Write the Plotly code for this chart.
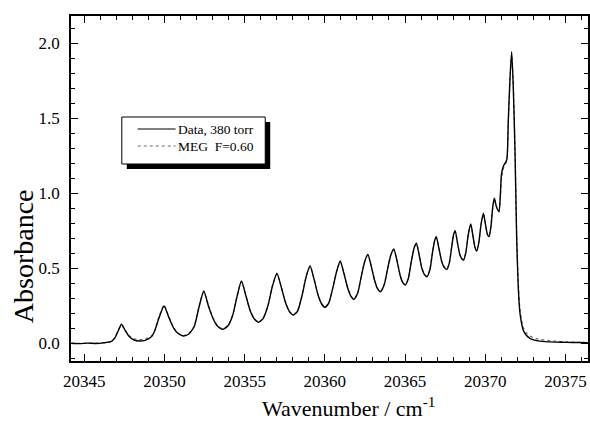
import plotly.graph_objects as go

# ---- data ----
wavenumber = [
    20344.2, 20344.7, 20345.2, 20345.7, 20346.2, 20346.66, 20346.9, 20347.1, 20347.32, 20347.55,
    20347.8, 20348.1, 20348.42, 20348.8, 20349.2, 20349.4, 20349.66, 20349.97, 20350.28, 20350.58,
    20350.85, 20351.17, 20351.5, 20351.85, 20352.15, 20352.45, 20352.75, 20353.05, 20353.3, 20353.63,
    20353.95, 20354.25, 20354.52, 20354.80, 20355.08, 20355.35, 20355.6, 20355.87, 20356.15, 20356.45,
    20356.73, 20357.01, 20357.28, 20357.55, 20357.8, 20358.04, 20358.3, 20358.58, 20358.85, 20359.08,
    20359.32, 20359.58, 20359.8, 20360.01, 20360.25, 20360.5, 20360.75, 20360.96, 20361.18, 20361.42,
    20361.62, 20361.81, 20362.05, 20362.28, 20362.5, 20362.68, 20362.88, 20363.1, 20363.28, 20363.47,
    20363.7, 20363.92, 20364.12, 20364.30, 20364.5, 20364.7, 20364.86, 20365.02, 20365.2, 20365.4,
    20365.58, 20365.71, 20365.88, 20366.05, 20366.2, 20366.37, 20366.55, 20366.72, 20366.85, 20366.95,
    20367.12, 20367.3, 20367.45, 20367.61, 20367.77, 20367.92, 20368.03, 20368.13, 20368.27, 20368.42,
    20368.55, 20368.65, 20368.8, 20368.95, 20369.10, 20369.23, 20369.36, 20369.47, 20369.6, 20369.75,
    20369.89, 20370.02, 20370.14, 20370.24, 20370.36, 20370.47, 20370.57, 20370.7, 20370.86, 20370.94,
    20371.02, 20371.15, 20371.34, 20371.44, 20371.55, 20371.65, 20371.75, 20371.86, 20371.96, 20372.06,
    20372.17, 20372.37, 20372.55, 20372.79, 20373.2, 20373.72, 20374.4, 20375.1, 20375.8, 20376.4,
]

absorbance_data = [
    0.000, -0.002, 0.001, -0.001, 0.003, 0.011, 0.035, 0.080, 0.127, 0.085,
    0.045, 0.022, 0.015, 0.020, 0.045, 0.085, 0.170, 0.249, 0.170, 0.100,
    0.065, 0.049, 0.060, 0.110, 0.240, 0.349, 0.245, 0.160, 0.115, 0.093,
    0.115, 0.185, 0.310, 0.415, 0.315, 0.215, 0.162, 0.140, 0.165, 0.250,
    0.380, 0.467, 0.375, 0.270, 0.210, 0.189, 0.215, 0.320, 0.450, 0.517,
    0.430, 0.320, 0.262, 0.240, 0.270, 0.370, 0.485, 0.549, 0.470, 0.370,
    0.315, 0.293, 0.335, 0.450, 0.550, 0.593, 0.520, 0.420, 0.365, 0.344,
    0.390, 0.500, 0.590, 0.629, 0.550, 0.450, 0.405, 0.389, 0.430, 0.550,
    0.640, 0.667, 0.590, 0.500, 0.460, 0.444, 0.490, 0.610, 0.685, 0.711,
    0.630, 0.540, 0.505, 0.493, 0.540, 0.650, 0.725, 0.751, 0.670, 0.590,
    0.562, 0.555, 0.610, 0.730, 0.795, 0.720, 0.640, 0.615, 0.670, 0.800,
    0.867, 0.790, 0.725, 0.711, 0.780, 0.910, 0.967, 0.910, 0.877, 0.980,
    1.133, 1.185, 1.222, 1.489, 1.777, 1.944, 1.711, 1.267, 0.711, 0.377,
    0.200, 0.089, 0.055, 0.033, 0.018, 0.011, 0.008, 0.006, 0.005, 0.004,
]

absorbance_meg = [
    0.000, 0.000, 0.000, 0.001, 0.004, 0.012, 0.038, 0.083, 0.122, 0.088,
    0.050, 0.030, 0.024, 0.028, 0.050, 0.090, 0.178, 0.256, 0.175, 0.104,
    0.068, 0.052, 0.063, 0.115, 0.245, 0.343, 0.250, 0.163, 0.118, 0.096,
    0.118, 0.188, 0.312, 0.410, 0.318, 0.218, 0.165, 0.143, 0.167, 0.252,
    0.382, 0.462, 0.378, 0.272, 0.212, 0.191, 0.217, 0.322, 0.452, 0.512,
    0.432, 0.322, 0.264, 0.242, 0.272, 0.372, 0.487, 0.544, 0.472, 0.372,
    0.317, 0.295, 0.337, 0.452, 0.552, 0.588, 0.522, 0.422, 0.367, 0.346,
    0.392, 0.502, 0.592, 0.624, 0.552, 0.452, 0.407, 0.391, 0.432, 0.552,
    0.642, 0.662, 0.592, 0.502, 0.462, 0.446, 0.492, 0.612, 0.682, 0.706,
    0.632, 0.542, 0.507, 0.495, 0.542, 0.652, 0.722, 0.745, 0.672, 0.592,
    0.564, 0.557, 0.612, 0.728, 0.788, 0.722, 0.642, 0.617, 0.672, 0.795,
    0.860, 0.792, 0.727, 0.713, 0.782, 0.905, 0.958, 0.912, 0.880, 0.960,
    1.100, 1.170, 1.215, 1.470, 1.760, 1.930, 1.720, 1.290, 0.740, 0.410,
    0.225, 0.108, 0.072, 0.048, 0.031, 0.021, 0.014, 0.010, 0.007, 0.005,
]

x_ticks = [20345, 20350, 20355, 20360, 20365, 20370, 20375]
y_ticks = [0.0, 0.5, 1.0, 1.5, 2.0]
legend_labels = ["Data, 380 torr", "MEG  F=0.60"]

# ---- layout geometry (pixels) ----
W, H = 590, 422
L, R, T, B = 71, 590, 16, 361
FONT = "Liberation Serif"


def px(x):
    return (x - L) / (R - L)


def py(y):
    return (B - y) / (B - T)


fig = go.Figure()
fig.add_trace(go.Scatter(
    x=wavenumber, y=absorbance_meg, mode="lines", name=legend_labels[1],
    line=dict(color="#6a6a6a", width=1.2, dash="dot", shape="spline", smoothing=0.6),
    showlegend=False,
))
fig.add_trace(go.Scatter(
    x=wavenumber, y=absorbance_data, mode="lines", name=legend_labels[0],
    line=dict(color="black", width=1.4, shape="spline", smoothing=0.6),
    showlegend=False,
))

axis_common = dict(
    showline=True, linecolor="black", linewidth=1.6, mirror="ticks",
    ticks="inside", ticklen=7, tickwidth=1.2, tickcolor="black",
    showgrid=False, zeroline=False,
    tickfont=dict(family=FONT, size=17, color="black"),
)

fig.update_xaxes(
    range=[20344.17, 20376.41], tickvals=x_ticks, tickformat="d",
    minor=dict(ticks="inside", ticklen=4, tickwidth=1, tickcolor="black", dtick=1, tick0=20345),
    ticklabelstandoff=4,
    **axis_common,
)
fig.update_yaxes(
    range=[-0.118, 2.182], tickvals=y_ticks, tickformat=".1f",
    minor=dict(ticks="inside", ticklen=4, tickwidth=1, tickcolor="black", dtick=0.1, tick0=0),
    ticklabelstandoff=6,
    **axis_common,
)

# legend box drawn by hand (with drop shadow)
bx0, by0, bx1, by1 = 122, 117, 266, 164
sh = 5
fig.add_shape(type="rect", xref="paper", yref="paper",
              x0=px(bx0 + sh), x1=px(bx1 + sh), y0=py(by1 + sh), y1=py(by0 + sh),
              fillcolor="black", line=dict(color="black", width=0))
fig.add_shape(type="rect", xref="paper", yref="paper",
              x0=px(bx0), x1=px(bx1), y0=py(by1), y1=py(by0),
              fillcolor="white", line=dict(color="black", width=1))
row_y = [129, 146]
fig.add_shape(type="line", xref="paper", yref="paper",
              x0=px(138), x1=px(176), y0=py(row_y[0]), y1=py(row_y[0]),
              line=dict(color="black", width=1.2))
fig.add_shape(type="line", xref="paper", yref="paper",
              x0=px(138), x1=px(176), y0=py(row_y[1]), y1=py(row_y[1]),
              line=dict(color="#6a6a6a", width=1.2, dash="dot"))
for lab, yy in zip(legend_labels, row_y):
    fig.add_annotation(text=lab, xref="paper", yref="paper", x=px(176), y=py(yy),
                       xanchor="left", yanchor="middle", showarrow=False,
                       font=dict(family=FONT, size=13.5, color="black"))

# axis titles
fig.add_annotation(text="Wavenumber / cm<sup>-1</sup>", xref="paper", yref="paper",
                   x=px(350), y=py(407), xanchor="center", yanchor="middle",
                   showarrow=False, font=dict(family=FONT, size=22, color="black"))
fig.add_annotation(text="Absorbance", xref="paper", yref="paper", textangle=-90,
                   x=px(23), y=py(256), xanchor="center", yanchor="middle",
                   showarrow=False, font=dict(family=FONT, size=28, color="black"))

fig.update_layout(
    width=W, height=H,
    margin=dict(l=L, r=W - R, t=T, b=H - B),
    paper_bgcolor="white", plot_bgcolor="white",
    font=dict(family=FONT, color="black"),
    showlegend=False,
)

fig.write_html("out.html")
